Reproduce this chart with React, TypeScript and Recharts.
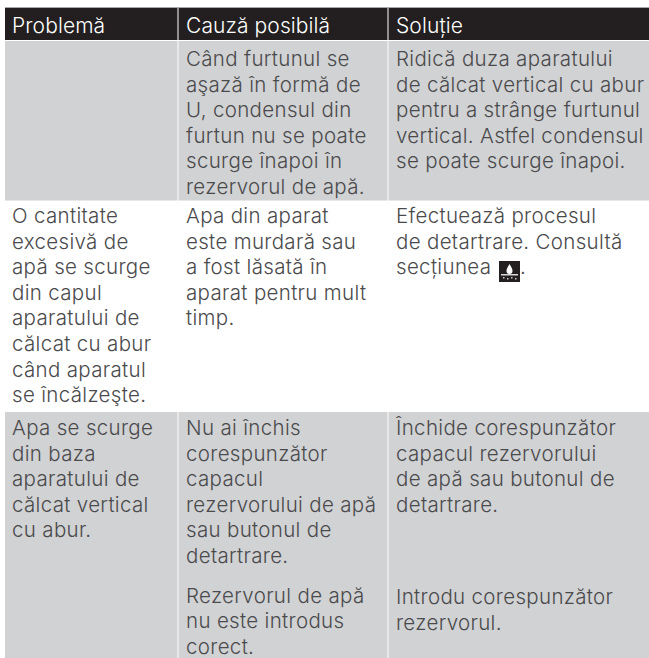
import { ScatterChart, Scatter, XAxis, YAxis, ReferenceArea } from "recharts";

const headers = ["Problemă", "Cauză posibilă", "Soluție"];

// each cell is a list of paragraphs, each paragraph a list of text lines
const row1Cause = [["Când furtunul se", "aşază în formă de", "U, condensul din", "furtun nu se poate", "scurge înapoi în", "rezervorul de apă."]];
const row1Solution = [["Ridică duza aparatului", "de călcat vertical cu abur", "pentru a strânge furtunul", "vertical. Astfel condensul", "se poate scurge înapoi."]];

const row2Problem = [["O cantitate", "excesivă de", "apă se scurge", "din capul", "aparatului de", "călcat cu abur", "când aparatul", "se încălzeşte."]];
const row2Cause = [["Apa din aparat", "este murdară sau", "a fost lăsată în", "aparat pentru mult", "timp."]];
const row2Solution = [["Efectuează procesul", "de detartrare. Consultă", "secțiunea"]];

const row3Problem = [["Apa se scurge", "din baza", "aparatului de", "călcat vertical", "cu abur."]];
const row3Cause = [
  ["Nu ai închis", "corespunzător", "capacul", "rezervorului de apă", "sau butonul de", "detartrare."],
  ["Rezervorul de apă", "nu este introdus", "corect."],
];
const row3Solution = [["Închide corespunzător", "capacul rezervorului", "de apă sau butonul de", "detartrare."]];
const row3Solution2 = [["Introdu corespunzător", "rezervorul."]];

const W = 649;
const H = 658;
const LINE = 25.6;
const PARA_GAP = 14;
const FONT = 20.5;
const COL_LEFT = [5, 178.5, 388.5];
const COL_RIGHT = [177.5, 387.5, 649];
const TEXT_X = [12, 186, 396];
const DARK = "#231f20";
const GREY = "#d1d2d4";
const INK = "#4a4a4c";

type Item = { x: number; y: number; text: string; color: string; size: number; spacing: number };

const items: Item[] = [];

function addCell(col: number, firstBaseline: number, paragraphs: string[][]) {
  let y = firstBaseline;
  paragraphs.forEach((p) => {
    p.forEach((text) => {
      items.push({ x: TEXT_X[col], y, text, color: INK, size: FONT, spacing: 0.33 });
      y += LINE;
    });
    y += PARA_GAP;
  });
}

headers.forEach((text, i) => {
  items.push({ x: TEXT_X[i], y: 33, text, color: "#ffffff", size: 21, spacing: 0.1 });
});
addCell(1, 66, row1Cause);
addCell(2, 66, row1Solution);
addCell(0, 223, row2Problem);
addCell(1, 223, row2Cause);
addCell(2, 223, row2Solution);
addCell(0, 435, row3Problem);
addCell(1, 435, row3Cause);
addCell(2, 435, row3Solution);
addCell(2, 604, row3Solution2);
items.push({ x: 520, y: 274, text: ".", color: INK, size: FONT, spacing: 0 });

const iconPoint = [{ x: 499, y: 261 }];

function TextMark(props: any) {
  const { cx, cy, payload } = props;
  return (
    <text
      x={cx}
      y={cy}
      fill={payload.color}
      fontSize={payload.size}
      fontWeight={300}
      letterSpacing={payload.spacing}
      fontFamily="Inter, sans-serif"
    >
      {payload.text}
    </text>
  );
}

function IconMark(props: any) {
  const { cx, cy } = props;
  return (
    <g transform={`translate(${cx},${cy})`}>
      <rect width={21} height={21} fill={DARK} />
      <path d="M10.5 3 C8.5 6.5 7.5 8 7.5 10 A3 3 0 0 0 13.5 10 C13.5 8 12.5 6.5 10.5 3 Z" fill="#fff" />
      <rect x={2} y={13} width={17} height={1.5} fill="#d8d8d8" />
      <rect x={4} y={16} width={1.5} height={1.5} fill="#ccc" />
      <rect x={8} y={17} width={1.5} height={1.5} fill="#ccc" />
      <rect x={12} y={16} width={1.5} height={1.5} fill="#ccc" />
      <rect x={16} y={17} width={1.5} height={1.5} fill="#ccc" />
    </g>
  );
}

export default function App() {
  return (
    <div style={{ position: "fixed", left: 0, top: 0, width: W, height: H, background: "#fff" }}>
      <ScatterChart width={W} height={H} margin={{ top: 0, right: 0, bottom: 0, left: 0 }}>
        <XAxis type="number" dataKey="x" domain={[0, W]} hide />
        <YAxis type="number" dataKey="y" domain={[0, H]} reversed hide />

        <ReferenceArea x1={COL_LEFT[0]} x2={W} y1={7} y2={8} fill="#a7a9ac" fillOpacity={1} stroke="none" />
        {COL_LEFT.map((left, i) => (
          <ReferenceArea key={`h${i}`} x1={left} x2={COL_RIGHT[i]} y1={8} y2={40} fill={DARK} fillOpacity={1} stroke="none" />
        ))}
        {COL_LEFT.map((left, i) => (
          <ReferenceArea key={`a${i}`} x1={left} x2={COL_RIGHT[i]} y1={41} y2={200.5} fill={GREY} fillOpacity={1} stroke="none" />
        ))}
        {COL_LEFT.map((left, i) => (
          <ReferenceArea key={`c${i}`} x1={left} x2={COL_RIGHT[i]} y1={412} y2={H} fill={GREY} fillOpacity={1} stroke="none" />
        ))}

        <Scatter data={items} shape={TextMark} isAnimationActive={false} />
        <Scatter data={iconPoint} shape={IconMark} isAnimationActive={false} />
      </ScatterChart>
    </div>
  );
}
